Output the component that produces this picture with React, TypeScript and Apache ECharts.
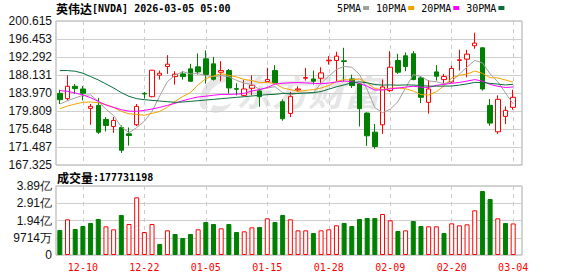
import React, { useEffect, useRef } from 'react';
import * as echarts from 'echarts';

const dates = [
  '12-05', '12-08', '12-09', '12-10', '12-11', '12-12', '12-15', '12-16', '12-17', '12-18',
  '12-19', '12-22', '12-23', '12-24', '12-26', '12-29', '12-30', '12-31', '01-02', '01-05',
  '01-06', '01-07', '01-08', '01-09', '01-12', '01-13', '01-14', '01-15', '01-16', '01-20',
  '01-21', '01-22', '01-23', '01-26', '01-27', '01-28', '01-29', '01-30', '02-02', '02-03',
  '02-04', '02-05', '02-06', '02-09', '02-10', '02-11', '02-12', '02-13', '02-17', '02-18',
  '02-19', '02-20', '02-23', '02-24', '02-25', '02-26', '02-27', '03-02', '03-03', '03-04',
];

const opens = [
  183.90, 182.66, 185.52, 184.90, 180.41, 181.11, 177.86, 176.23, 176.00, 174.53,
  176.62, 183.90, 183.12, 188.08, 190.09, 187.77, 188.39, 189.55, 190.01, 191.87,
  190.71, 188.77, 189.16, 184.98, 183.43, 185.06, 184.44, 186.61, 189.16, 181.96,
  179.25, 184.67, 187.38, 187.23, 187.38, 191.41, 191.48, 191.41, 187.23, 186.06,
  179.33, 174.92, 176.62, 184.52, 191.48, 192.57, 193.03, 187.46, 181.81, 188.85,
  187.07, 186.53, 191.48, 191.79, 194.89, 194.42, 181.11, 175.00, 178.56, 180.65,
];

const closes = [
  182.43, 185.52, 184.98, 183.90, 180.88, 174.92, 176.47, 177.63, 170.74, 174.15,
  180.88, 183.74, 189.24, 188.54, 190.63, 188.31, 187.77, 186.68, 188.85, 188.23,
  187.15, 189.16, 185.14, 184.83, 184.90, 185.76, 183.12, 187.07, 186.30, 178.02,
  183.20, 184.90, 187.54, 186.68, 188.62, 191.56, 192.49, 191.25, 185.68, 180.34,
  174.07, 171.59, 185.37, 189.93, 188.77, 190.09, 187.07, 182.97, 184.90, 187.84,
  187.77, 189.63, 191.64, 192.95, 195.51, 184.90, 177.01, 182.50, 179.95, 182.97,
];

const lows = [
  181.42, 182.19, 183.74, 182.27, 176.62, 174.53, 175.07, 174.76, 170.12, 171.82,
  176.31, 182.66, 182.97, 187.07, 188.39, 185.91, 187.07, 186.53, 188.23, 186.14,
  186.84, 186.68, 183.82, 183.43, 183.20, 183.43, 180.80, 186.53, 186.14, 177.55,
  178.40, 184.21, 186.84, 185.91, 186.30, 190.55, 186.68, 186.68, 185.14, 176.23,
  171.75, 171.05, 174.53, 184.21, 188.39, 189.01, 186.92, 181.65, 179.18, 186.84,
  186.06, 186.30, 189.16, 187.61, 194.19, 184.52, 176.39, 174.53, 176.78, 180.10,
];

const highs = [
  184.75, 188.08, 186.06, 185.60, 181.42, 182.81, 178.40, 178.40, 176.47, 176.00,
  181.42, 184.21, 189.31, 189.16, 192.72, 189.01, 189.01, 190.71, 193.11, 193.80,
  192.33, 191.33, 189.55, 186.22, 187.07, 188.08, 184.98, 189.78, 190.40, 182.50,
  184.21, 185.52, 189.78, 189.16, 189.93, 192.49, 193.50, 194.42, 188.23, 186.30,
  179.49, 176.78, 187.07, 193.65, 193.03, 193.34, 193.65, 187.84, 186.99, 190.40,
  188.39, 190.32, 193.96, 193.96, 197.91, 194.50, 182.58, 183.43, 180.88, 184.75,
];

// shares
const volumes = [
  140800000, 200900000, 146400000, 163300000, 180200000, 202700000, 161400000, 144600000, 225300000, 174600000,
  324800000, 129500000, 174600000, 62000000, 138900000, 118300000, 95700000, 118300000, 144600000, 185900000,
  174600000, 150200000, 174600000, 129500000, 133300000, 155800000, 157700000, 206500000, 185900000, 225300000,
  200900000, 138900000, 138900000, 123900000, 138900000, 144600000, 167100000, 180200000, 163300000, 202700000,
  208400000, 208400000, 230900000, 195200000, 135200000, 138900000, 191500000, 163300000, 161400000, 161400000,
  123900000, 178300000, 167100000, 172700000, 251600000, 360400000, 315400000, 206500000, 180200000, 177731198,
];

// moving-average values at the left edge (their windows start before the first visible day)
const ma5Head = [181.42, 182.19, 182.81, 183.43];
const ma10Head = [180.34, 180.96, 181.42, 181.81, 181.89, 181.73, 181.27, 180.65, 179.72];
const ma20Head = [
  184.52, 184.36, 183.97, 183.51, 182.89, 182.04, 181.19, 180.65, 180.10, 179.79,
  179.72, 179.95, 180.26, 180.65, 181.11, 181.58, 182.19, 182.66, 183.05,
];
const ma30Head = [
  189.16, 189.16, 189.00, 188.54, 187.77, 186.99, 186.06, 185.14, 184.05, 183.20,
  182.66, 182.43, 182.27, 182.12, 181.96, 181.81, 181.89, 182.04, 182.19, 182.35,
  182.50, 182.66, 182.81, 182.97, 183.12, 183.28, 183.43, 183.59, 183.66,
];

const priceTickLabels = ['167.325', '171.487', '175.648', '179.809', '183.970', '188.131', '192.292', '196.453', '200.615'];
const volumeTickLabels = ['0', '9714万', '1.94亿', '2.91亿', '3.89亿'];
const PRICE_MIN = 167.325;
const PRICE_MAX = 200.615;
const VOL_MAX = 388560000;
const maNames = ['5PMA', '10PMA', '20PMA', '30PMA'];

function movingAverage(head: number[], n: number): number[] {
  return closes.map((_, i) => {
    if (i < head.length) return head[i];
    let s = 0;
    for (let k = i - n + 1; k <= i; k++) s += closes[k];
    return +(s / n).toFixed(3);
  });
}

echarts.graphic.registerShape(
  'emlogo',
  echarts.graphic.extendPath(
    'M30 2 C16 4 4 16 2 30 C1 40 6 44 12 40 C8 30 14 16 28 12 C36 10 40 14 38 20 C44 14 42 2 30 2 Z M14 44 C22 48 34 44 40 34 C34 38 24 40 18 36 Z',
    {}
  )
);

export default function App() {
  const ref = useRef<HTMLDivElement>(null);

  useEffect(() => {
    if (!ref.current) return;
    const chart = echarts.init(ref.current, null, { renderer: 'svg' });

    const candleData = dates.map((_, i) => [opens[i], closes[i], lows[i], highs[i]]);
    const volData = volumes.map((v, i) => {
      const up = i === 0 ? closes[0] >= opens[0] : closes[i] >= closes[i - 1];
      return {
        value: v,
        itemStyle: up
          ? { color: '#ffffff', borderColor: '#ff0000', borderWidth: 1 }
          : { color: '#008000', borderColor: '#008000', borderWidth: 1 },
      };
    });

    const maColors = ['#a0a0a0', '#f5a300', '#ff00ff', '#0a6e3a'];
    const maData = [
      movingAverage(ma5Head, 5),
      movingAverage(ma10Head, 10),
      movingAverage(ma20Head, 20),
      movingAverage(ma30Head, 30),
    ];

    const priceInterval = (PRICE_MAX - PRICE_MIN) / 8;
    const volInterval = VOL_MAX / 4;
    const labelIdx = (i: number) => i % 8 === 3;
    const mono = '"DejaVu Sans Mono", "Liberation Mono", monospace';
    const sans = '"Liberation Sans", Arial, sans-serif';

    const option: any = {
      animation: false,
      backgroundColor: '#ffffff',
      title: [
        {
          text: '{a|英伟达}{b|[NVDA] 2026-03-05 05:00}',
          left: 56,
          top: 2,
          padding: 0,
          textStyle: {
            rich: {
              a: { fontFamily: '"Noto Sans CJK SC"', fontSize: 12, color: '#000' },
              b: { fontFamily: mono, fontSize: 10, color: '#000' },
            },
          },
        },
        {
          text: '{a|成交量}{b|:' + volumes[volumes.length - 1] + '}',
          left: 57,
          top: 171,
          padding: 0,
          textStyle: {
            rich: {
              a: { fontFamily: '"Noto Sans CJK SC"', fontSize: 12, color: '#000' },
              b: { fontFamily: mono, fontSize: 10, color: '#000' },
            },
          },
        },
      ],
      legend: {
        data: maNames,
        left: 337,
        top: 3,
        padding: 0,
        align: 'right',
        icon: 'rect',
        itemWidth: 6,
        itemHeight: 4,
        itemGap: 7,
        selectedMode: false,
        textStyle: { fontFamily: mono, fontSize: 10, color: '#000', padding: [0, -3, 0, 0] },
      },
      graphic: [
        {
          type: 'emlogo',
          x: 198,
          y: 72,
          scaleX: 0.85,
          scaleY: 0.9,
          silent: true,
          z: -1,
          style: { fill: '#e6e6e6' },
        },
        {
          type: 'text',
          left: 236,
          top: 72,
          silent: true,
          z: -1,
          style: {
            text: '东方财富',
            font: 'italic bold 36px "Noto Sans CJK SC"',
            fill: '#e6e6e6',
          },
        },
      ],
      grid: [
        { left: 56, top: 21, width: 466, height: 144, show: true, borderColor: '#a8a8a8', borderWidth: 1 },
        { left: 56, top: 21, width: 461, height: 144 },
        { left: 56, top: 186, width: 466, height: 69, show: true, borderColor: '#a8a8a8', borderWidth: 1 },
        { left: 56, top: 186, width: 461, height: 69 },
      ],
      xAxis: [
        { gridIndex: 0, type: 'category', data: dates, show: false },
        {
          gridIndex: 1,
          type: 'category',
          data: dates,
          boundaryGap: true,
          axisLine: { show: false },
          axisTick: { show: false },
          axisLabel: { show: false },
          splitLine: {
            show: true,
            interval: labelIdx,
            alignWithLabel: true,
            lineStyle: { color: '#cccccc', type: [4, 4], width: 1 },
          },
        },
        { gridIndex: 2, type: 'category', data: dates, show: false },
        {
          gridIndex: 3,
          type: 'category',
          data: dates,
          boundaryGap: true,
          axisLine: { show: false },
          axisTick: { show: false },
          axisLabel: {
            show: true,
            interval: labelIdx,
            color: '#ff0000',
            fontFamily: mono,
            fontSize: 10,
            margin: 7,
          },
          splitLine: {
            show: true,
            interval: labelIdx,
            alignWithLabel: true,
            lineStyle: { color: '#cccccc', type: [4, 4], width: 1 },
          },
        },
      ],
      yAxis: [
        {
          gridIndex: 0,
          type: 'value',
          min: PRICE_MIN,
          max: PRICE_MAX,
          interval: priceInterval,
          axisLine: { show: false },
          axisTick: { show: false },
          axisLabel: {
            margin: 4,
            color: '#111',
            fontFamily: sans,
            fontSize: 12,
            formatter: (v: number) => priceTickLabels[Math.round((v - PRICE_MIN) / priceInterval)] ?? '',
          },
          splitLine: { show: true, lineStyle: { color: '#cfcfcf', width: 1 } },
        },
        { gridIndex: 1, type: 'value', min: PRICE_MIN, max: PRICE_MAX, show: false, splitLine: { show: false } },
        {
          gridIndex: 2,
          type: 'value',
          min: 0,
          max: VOL_MAX,
          interval: volInterval,
          axisLine: { show: false },
          axisTick: { show: false },
          axisLabel: {
            margin: 4,
            color: '#111',
            fontFamily: sans,
            fontSize: 12,
            formatter: (v: number) => volumeTickLabels[Math.round(v / volInterval)] ?? '',
          },
          splitLine: { show: true, lineStyle: { color: '#cfcfcf', width: 1 } },
        },
        { gridIndex: 3, type: 'value', min: 0, max: VOL_MAX, show: false, splitLine: { show: false } },
      ],
      series: [
        {
          type: 'candlestick',
          xAxisIndex: 1,
          yAxisIndex: 1,
          data: candleData,
          barWidth: 5,
          itemStyle: {
            color: '#ffffff',
            color0: '#008000',
            borderColor: '#ff0000',
            borderColor0: '#008000',
            borderWidth: 1,
          },
          z: 3,
        },
        ...maNames.map((name, k) => ({
          name,
          type: 'line',
          xAxisIndex: 1,
          yAxisIndex: 1,
          data: maData[k],
          showSymbol: false,
          symbol: 'none',
          color: maColors[k],
          lineStyle: { width: 1, color: maColors[k] },
          z: 4,
        })),
        {
          type: 'bar',
          xAxisIndex: 3,
          yAxisIndex: 3,
          data: volData,
          barWidth: 5,
        },
      ],
    };

    chart.setOption(option);
    return () => chart.dispose();
  }, []);

  return (
    <div
      ref={ref}
      style={{ position: 'fixed', left: 0, top: 0, width: 578, height: 276, background: '#fff' }}
    />
  );
}
